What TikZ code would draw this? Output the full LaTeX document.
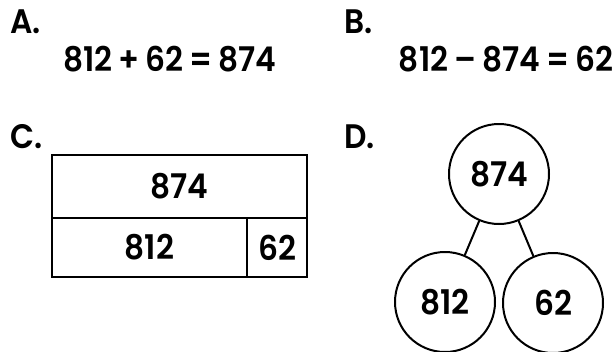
\documentclass[tikz,border=0pt]{standalone}
\usepackage{fontspec}
\setmainfont{Poppins}[BoldFont={Poppins SemiBold}, FakeStretch=0.92, WordSpace=0.8]
\newlength{\du}
\setlength{\du}{1pt}
\tikzset{
  numtext/.style={font=\fontsize{34}{40}\selectfont\bfseries},
  cellbox/.style={draw, rectangle, line width=2\du, inner sep=0pt, numtext},
  partcircle/.style={draw, circle, line width=2\du, inner sep=0pt, minimum size=100\du, numtext},
  partline/.style={line width=2\du}
}

\begin{document}
\begin{tikzpicture}
\pgftransformxscale{1.000000}
\pgftransformyscale{-1.000000}
\definecolor{dialinecolor}{rgb}{0.000000, 0.000000, 0.000000}
\pgfsetstrokecolor{dialinecolor}
\useasboundingbox (0\du,0\du) rectangle (616\du,351\du);
% labels
\node[numtext, anchor=base west] (labelA) at (7\du,33\du){A.};
\node[numtext, anchor=base west] (labelB) at (341\du,33\du){B.};
\node[numtext, anchor=base west] (labelC) at (7\du,148\du){C.};
\node[numtext, anchor=base west] (labelD) at (341\du,148\du){D.};
% equations
\node[numtext, anchor=base] (sumeq) at (170\du,71\du){812 + 62 = 874};
\node[numtext, anchor=base] (diffeq) at (506\du,71\du){812 – 874 = 62};
% bar model
\node[cellbox, minimum width=255\du, minimum height=63\du] (wholecell) at (179.5\du,186.5\du){874};
\node[cellbox, minimum width=195\du, minimum height=59\du] (bigcell) at (149.5\du,247.5\du){812};
\node[cellbox, minimum width=60\du, minimum height=59\du] (smallcell) at (277\du,247.5\du){62};
% number bond
\node[partcircle] (wholecirc) at (499\du,174\du){874};
\node[partcircle] (bigcirc) at (445\du,302\du){812};
\node[partcircle] (smallcirc) at (553\du,303\du){62};
\draw[partline] (wholecirc)--(bigcirc);
\draw[partline] (wholecirc)--(smallcirc);
\end{tikzpicture}
\end{document}
